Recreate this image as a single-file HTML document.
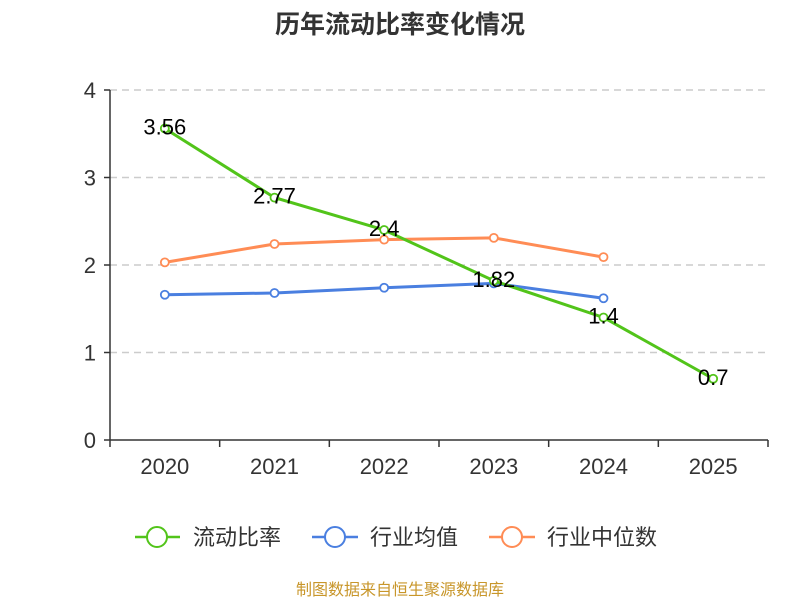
<!DOCTYPE html>
<html><head><meta charset="utf-8"><style>
body{margin:0;background:#fff}
svg{display:block;font-family:"Liberation Sans","Noto Sans CJK SC",sans-serif}
</style></head><body>
<svg id="c" width="800" height="600">
<text x="400" y="33" text-anchor="middle" font-size="25" font-weight="bold" fill="#333">历年流动比率变化情况</text>
<g id="grid"></g><g id="axes"></g><g id="series"></g><g id="labels"></g>
<g>
<g><line x1="135" y1="537" x2="180" y2="537" stroke="#52c41a" stroke-width="2.5"/><circle cx="157" cy="537" r="10" fill="#fff" stroke="#52c41a" stroke-width="2"/><text x="193" y="545" font-size="22" fill="#333">流动比率</text></g>
<g><line x1="312" y1="537" x2="358" y2="537" stroke="#4a7fe0" stroke-width="2.5"/><circle cx="335" cy="537" r="10" fill="#fff" stroke="#4a7fe0" stroke-width="2"/><text x="370" y="545" font-size="22" fill="#333">行业均值</text></g>
<g><line x1="489" y1="537" x2="535" y2="537" stroke="#ff8c55" stroke-width="2.5"/><circle cx="512" cy="537" r="10" fill="#fff" stroke="#ff8c55" stroke-width="2"/><text x="547" y="545" font-size="22" fill="#333">行业中位数</text></g>
</g>
<text x="400" y="595" text-anchor="middle" font-size="16" fill="#c8962a">制图数据来自恒生聚源数据库</text>
</svg>
<script>
const categories=["2020","2021","2022","2023","2024","2025"];
const ratioValues=[3.56,2.77,2.4,1.82,1.4,0.7];
const ratioLabels=["3.56","2.77","2.4","1.82","1.4","0.7"];
const avgValues=[1.66,1.68,1.74,1.79,1.62];
const medianValues=[2.03,2.24,2.29,2.31,2.09];
const yTicks=[0,1,2,3,4];
const NS="http://www.w3.org/2000/svg";
const L=110,R=768,T=90,B=440,YMAX=4;
const bw=(R-L)/categories.length;
const x=i=>L+bw*(i+0.5);
const y=v=>B-(v/YMAX)*(B-T);
function mk(tag,attrs,parent){const e=document.createElementNS(NS,tag);for(const k in attrs)e.setAttribute(k,attrs[k]);parent.appendChild(e);return e;}
const grid=document.getElementById('grid'),axes=document.getElementById('axes'),ser=document.getElementById('series'),lab=document.getElementById('labels');
yTicks.forEach(t=>{
 if(t>0){const g=mk('line',{x1:L,x2:R,y1:y(t),y2:y(t),stroke:'#ccc','stroke-width':1.5,'stroke-dasharray':'7,5'},grid);
 
 }
 const tk=mk('line',{x1:L-6,x2:L,y1:y(t),y2:y(t),stroke:'#333','stroke-width':1.5},axes);
 
 
 const tx=mk('text',{x:L-14,y:y(t)+8,'text-anchor':'end','font-size':22,fill:'#333'},axes);tx.textContent=t;
 
 
});
const ya=mk('line',{x1:L,x2:L,y1:T,y2:B,stroke:'#333','stroke-width':1.5},axes);


const xa=mk('line',{x1:L,x2:R,y1:B,y2:B,stroke:'#333','stroke-width':1.5},axes);


for(let i=0;i<=categories.length;i++){const t=mk('line',{x1:L+bw*i,x2:L+bw*i,y1:B,y2:B+7,stroke:'#333','stroke-width':1.5},axes);
 
 }
categories.forEach((c,i)=>{const t=mk('text',{x:x(i),y:B+34,'text-anchor':'middle','font-size':22,fill:'#333'},axes);t.textContent=c;
 
 });
function series(vals,color,name){
 const p=mk('polyline',{points:vals.map((v,i)=>x(i)+','+y(v)).join(' '),fill:'none',stroke:color,'stroke-width':3},ser);
 
 
 vals.forEach((v,i)=>{const c=mk('circle',{cx:x(i),cy:y(v),r:4,fill:'#fff',stroke:color,'stroke-width':1.8},ser);
 
 });
}
series(avgValues,'#4a7fe0','industry-average');
series(medianValues,'#ff8c55','industry-median');
series(ratioValues,'#52c41a','current-ratio');
ratioValues.forEach((v,i)=>{const t=mk('text',{x:x(i),y:y(v)+6,'text-anchor':'middle','font-size':22,fill:'#000'},lab);t.textContent=ratioLabels[i];
 
 });
</script>
</body></html>
